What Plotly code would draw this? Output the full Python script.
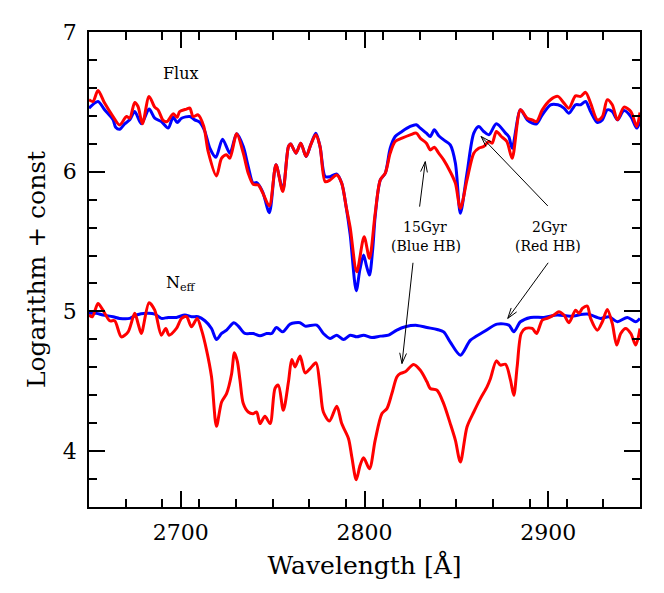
import math
import plotly.graph_objects as go

# ---- data (wavelength in Angstrom, value = logarithm + const) ----
flux_blue_wl = [2650, 2654.9, 2658.5, 2663.1, 2664.5, 2666.7, 2669.4, 2672.2, 2674.9, 2678.5, 2682.7, 2685.8, 2689.4, 2693.1, 2695.8, 2698, 2700.4, 2704.9, 2707.6, 2710.4, 2713.1, 2715.8, 2719.1, 2722.7, 2726.7, 2730.4, 2734, 2736.7, 2739.4, 2741.3, 2744.5, 2748.2, 2751.8, 2755.5, 2758.6, 2759.8, 2762.7, 2765.3, 2768.2, 2770.7, 2773.5, 2775.8, 2778.6, 2781.3, 2784.9, 2787.6, 2790, 2792.2, 2795.5, 2797.5, 2799.5, 2801, 2802.7, 2804.5, 2805.8, 2808.6, 2811.3, 2814, 2816.7, 2820.4, 2824.9, 2828.2, 2830.4, 2833.7, 2835.8, 2838, 2840.4, 2843.1, 2846.7, 2849.5, 2852.2, 2855.8, 2859.5, 2862.2, 2864.9, 2867.7, 2871.8, 2876.8, 2878.6, 2880.4, 2884.9, 2888.6, 2891.3, 2893.7, 2896.8, 2901.3, 2905.3, 2908.6, 2911.3, 2914.9, 2917.7, 2920.4, 2923.1, 2926.8, 2929.5, 2932.2, 2934.9, 2937.7, 2941.3, 2945, 2948.2, 2950]
flux_blue = [6.455, 6.503, 6.443, 6.371, 6.319, 6.304, 6.343, 6.371, 6.431, 6.343, 6.448, 6.383, 6.359, 6.312, 6.390, 6.352, 6.383, 6.395, 6.371, 6.352, 6.288, 6.168, 6.104, 6.233, 6.133, 6.271, 6.180, 6.037, 5.917, 5.922, 5.858, 5.707, 6.049, 5.870, 6.180, 6.199, 6.133, 6.204, 6.109, 6.192, 6.276, 6.180, 5.965, 5.965, 5.983, 5.917, 5.750, 5.550, 5.148, 5.300, 5.404, 5.330, 5.260, 5.450, 5.678, 5.941, 5.989, 6.168, 6.252, 6.288, 6.324, 6.336, 6.312, 6.276, 6.252, 6.300, 6.257, 6.228, 6.192, 6.061, 5.702, 5.989, 6.276, 6.324, 6.288, 6.264, 6.343, 6.276, 6.250, 6.168, 6.443, 6.371, 6.348, 6.343, 6.407, 6.479, 6.479, 6.455, 6.419, 6.479, 6.479, 6.503, 6.431, 6.352, 6.371, 6.443, 6.431, 6.371, 6.438, 6.395, 6.312, 6.359]

flux_red_wl = [2650, 2652.2, 2654.9, 2658.5, 2663.1, 2666.7, 2670.4, 2672.2, 2674.9, 2676.7, 2679.1, 2682.7, 2685.8, 2687.6, 2690.4, 2692.5, 2695.8, 2698, 2699.4, 2703.1, 2704.9, 2706.7, 2709.4, 2712.5, 2714.9, 2719.4, 2722.2, 2724.9, 2726.7, 2730.4, 2734, 2736.7, 2739.4, 2742.2, 2744.5, 2748.2, 2751.8, 2755.5, 2758.6, 2759.8, 2762.7, 2765.3, 2768.2, 2770.7, 2773.5, 2775.8, 2778.6, 2781.3, 2784.9, 2787.6, 2790, 2792.2, 2795.8, 2799.8, 2802.7, 2805.8, 2808.6, 2811.3, 2814, 2816.7, 2820.4, 2824.9, 2828.2, 2830.4, 2833.7, 2835.8, 2838, 2840.4, 2843.1, 2846.7, 2849.5, 2852.2, 2855.8, 2859.5, 2862.2, 2864.9, 2867.7, 2869.5, 2871.8, 2874.5, 2877.5, 2880.4, 2884.9, 2888.6, 2891.3, 2893.7, 2896.8, 2901.3, 2905.3, 2908.6, 2911.3, 2914.9, 2917.7, 2920.4, 2923.1, 2926.8, 2929.5, 2932.2, 2934.9, 2937.7, 2941.3, 2945, 2948.2, 2950]
flux_red = [6.515, 6.503, 6.582, 6.491, 6.395, 6.335, 6.395, 6.383, 6.496, 6.467, 6.343, 6.539, 6.462, 6.443, 6.367, 6.359, 6.414, 6.390, 6.431, 6.448, 6.455, 6.395, 6.407, 6.324, 6.144, 5.970, 6.097, 6.121, 6.097, 6.271, 6.133, 5.989, 5.910, 5.905, 5.851, 5.755, 6.049, 5.858, 6.180, 6.199, 6.133, 6.204, 6.109, 6.192, 6.264, 6.180, 5.929, 5.941, 5.977, 5.917, 5.750, 5.600, 5.284, 5.535, 5.380, 5.700, 5.941, 5.989, 6.133, 6.216, 6.240, 6.264, 6.276, 6.240, 6.204, 6.156, 6.175, 6.133, 6.085, 6.000, 5.917, 5.738, 5.941, 6.133, 6.168, 6.180, 6.216, 6.204, 6.288, 6.252, 6.216, 6.097, 6.443, 6.383, 6.371, 6.359, 6.443, 6.515, 6.539, 6.491, 6.455, 6.543, 6.539, 6.568, 6.491, 6.371, 6.395, 6.515, 6.479, 6.371, 6.462, 6.431, 6.324, 6.424]

neff_blue_wl = [2650, 2654, 2657.6, 2663.1, 2666.7, 2672.2, 2675.8, 2681.3, 2685.8, 2689.4, 2693.1, 2697.6, 2702.2, 2705.8, 2709.4, 2713.1, 2716.7, 2719.4, 2722.2, 2724.9, 2728.9, 2731.3, 2734.9, 2739.4, 2743.1, 2746.7, 2749.5, 2752, 2755.5, 2759.5, 2764.9, 2767.7, 2774, 2777.6, 2781.3, 2784.9, 2788.6, 2792.2, 2795.8, 2799.5, 2804, 2808.6, 2813.1, 2817.6, 2822.2, 2828.6, 2834, 2839.5, 2843.1, 2846.7, 2852.2, 2857.7, 2864.9, 2872.2, 2878.6, 2881.3, 2884.9, 2890.4, 2897.7, 2904.9, 2912.2, 2921.3, 2928.6, 2933.1, 2937.7, 2943.1, 2947.7, 2950]
neff_blue = [4.986, 4.986, 4.974, 4.962, 4.950, 4.950, 4.974, 4.986, 4.981, 4.950, 4.957, 4.957, 4.974, 4.962, 4.962, 4.933, 4.878, 4.799, 4.842, 4.866, 4.919, 4.895, 4.842, 4.842, 4.825, 4.842, 4.842, 4.885, 4.854, 4.909, 4.919, 4.895, 4.902, 4.842, 4.806, 4.830, 4.799, 4.830, 4.818, 4.830, 4.813, 4.823, 4.830, 4.866, 4.890, 4.900, 4.885, 4.871, 4.854, 4.780, 4.687, 4.794, 4.854, 4.909, 4.902, 4.854, 4.926, 4.957, 4.957, 4.974, 4.966, 4.981, 4.950, 4.962, 4.926, 4.957, 4.926, 4.950]

neff_red_wl = [2650, 2651.8, 2654.9, 2657.6, 2661.3, 2664, 2667.6, 2671.3, 2674.9, 2676.7, 2678.5, 2682.7, 2685.8, 2689.4, 2691.8, 2693.6, 2697.6, 2700.4, 2703.1, 2705.8, 2708.9, 2711.3, 2714, 2716.7, 2719.4, 2722.2, 2724.9, 2727.6, 2729.2, 2730.8, 2732.2, 2734, 2736.7, 2739.4, 2741.3, 2743.1, 2745.8, 2748.6, 2751.3, 2753.1, 2755.8, 2758.6, 2760.4, 2762.2, 2764.9, 2767.7, 2770.4, 2773.6, 2775.8, 2777.6, 2780.9, 2784.9, 2787.6, 2791.3, 2793.1, 2795.5, 2797.6, 2799.5, 2802.7, 2805.8, 2809.5, 2812.2, 2814.9, 2817.6, 2819.5, 2822.2, 2826.7, 2830.4, 2834, 2835.8, 2839.5, 2843.1, 2846.7, 2849.5, 2852.2, 2855.8, 2859.5, 2863.1, 2866.7, 2868.6, 2871.8, 2874, 2876.8, 2879.5, 2881.3, 2883.1, 2885.3, 2887.7, 2891.3, 2893.7, 2896.8, 2899.5, 2903.1, 2905.8, 2908.6, 2911.3, 2914.9, 2916.8, 2918.6, 2921.3, 2923.1, 2926.8, 2929.5, 2932.2, 2934.9, 2937.3, 2939.5, 2942.2, 2945, 2947.7, 2950]
neff_red = [4.974, 4.962, 5.057, 5.009, 4.933, 4.933, 4.818, 4.854, 4.986, 4.914, 4.842, 5.062, 5.009, 4.830, 4.878, 4.830, 4.878, 4.950, 4.962, 4.890, 4.950, 4.866, 4.723, 4.532, 4.178, 4.352, 4.412, 4.550, 4.705, 4.640, 4.508, 4.340, 4.280, 4.268, 4.280, 4.197, 4.249, 4.197, 4.450, 4.472, 4.292, 4.496, 4.656, 4.603, 4.680, 4.560, 4.591, 4.632, 4.460, 4.280, 4.216, 4.321, 4.197, 4.089, 3.958, 3.795, 3.898, 3.953, 3.874, 4.077, 4.269, 4.304, 4.412, 4.530, 4.555, 4.568, 4.620, 4.579, 4.496, 4.448, 4.436, 4.340, 4.197, 4.077, 3.922, 4.173, 4.280, 4.376, 4.460, 4.520, 4.646, 4.615, 4.622, 4.508, 4.400, 4.603, 4.842, 4.878, 4.878, 4.842, 4.938, 4.950, 4.974, 4.998, 4.974, 4.919, 5.009, 4.986, 5.021, 5.038, 4.950, 4.866, 4.926, 5.014, 4.914, 4.759, 4.842, 4.878, 4.842, 4.759, 4.878]

x_range = [2650, 2950]
y_range = [3.6, 7.0]
x_ticks = [2700, 2800, 2900]
y_ticks = [4, 5, 6, 7]

# label texts and their positions (data units)
label_texts = ["Flux", "N<sub>eff</sub>", "15Gyr", "(Blue HB)", "2Gyr", "(Red HB)"]
label_x = [2700.0, 2700.0, 2833.2, 2833.5, 2900.5, 2900.0]
label_y = [6.70, 5.20, 5.606, 5.470, 5.606, 5.470]
label_size = [16, 16, 14, 14, 14, 14]

# arrows: head and tail (data units)
arrow_head_x = [2833.1, 2820.4, 2863.5, 2878.0]
arrow_head_y = [6.072, 4.627, 6.252, 4.950]
arrow_tail_x = [2830.0, 2826.4, 2899.8, 2900.0]
arrow_tail_y = [5.750, 5.348, 5.755, 5.348]

FONT = "DejaVu Serif"
W, H = 664, 593
ML, MR, MT, MB = 81, 32, 24, 94

fig = go.Figure()
line_kw = dict(shape="spline", smoothing=0.8, width=3)
fig.add_trace(go.Scatter(x=flux_blue_wl, y=flux_blue, mode="lines", line=dict(color="#0000ff", **line_kw)))
fig.add_trace(go.Scatter(x=neff_blue_wl, y=neff_blue, mode="lines", line=dict(color="#0000ff", **line_kw)))
fig.add_trace(go.Scatter(x=flux_red_wl, y=flux_red, mode="lines", line=dict(color="#ff0000", **line_kw)))
fig.add_trace(go.Scatter(x=neff_red_wl, y=neff_red, mode="lines", line=dict(color="#ff0000", **line_kw)))

for x, y, t, s in zip(label_x, label_y, label_texts, label_size):
    fig.add_annotation(x=x, y=y, xref="x", yref="y", text=t, showarrow=False,
                       font=dict(family=FONT, size=s, color="black"))

# pixel scale of the plot area, used to build open V arrowheads
px_per_x = (W - ML - MR) / (x_range[1] - x_range[0])
px_per_y = (H - MT - MB) / (y_range[1] - y_range[0])
head_len, head_ang = 11.0, math.radians(18)

for hx, hy, tx, ty in zip(arrow_head_x, arrow_head_y, arrow_tail_x, arrow_tail_y):
    fig.add_shape(type="line", x0=tx, y0=ty, x1=hx, y1=hy, xref="x", yref="y",
                  line=dict(color="black", width=1))
    dx = (tx - hx) * px_per_x
    dy = (ty - hy) * px_per_y
    n = math.hypot(dx, dy)
    ux, uy = dx / n, dy / n
    for s in (1, -1):
        a = s * head_ang
        rx = ux * math.cos(a) - uy * math.sin(a)
        ry = ux * math.sin(a) + uy * math.cos(a)
        fig.add_shape(type="line", x0=hx, y0=hy,
                      x1=hx + rx * head_len / px_per_x, y1=hy + ry * head_len / px_per_y,
                      xref="x", yref="y", line=dict(color="black", width=1))

axis_common = dict(
    showline=True, linecolor="black", linewidth=1.5, mirror="allticks",
    ticks="inside", tickcolor="black", tickwidth=1.5, ticklen=16,
    showgrid=False, zeroline=False,
    tickfont=dict(family=FONT, size=22, color="black"),
)
fig.update_xaxes(range=x_range, tickvals=x_ticks,
                 minor=dict(dtick=20, tick0=2650, ticks="inside", ticklen=8, tickcolor="black", tickwidth=1.5, showgrid=False),
                 title=dict(text="Wavelength [Å]", font=dict(family=FONT, size=25, color="black"), standoff=12),
                 ticklabelstandoff=5,
                 **axis_common)
fig.update_yaxes(range=y_range, tickvals=y_ticks,
                 minor=dict(dtick=0.2, tick0=3.6, ticks="inside", ticklen=8, tickcolor="black", tickwidth=1.5, showgrid=False),
                 title=dict(text="Logarithm + const", font=dict(family=FONT, size=25, color="black"), standoff=10),
                 ticklabelstandoff=6,
                 **axis_common)

fig.update_layout(
    width=W, height=H,
    margin=dict(l=ML, r=MR, t=MT, b=MB),
    plot_bgcolor="white", paper_bgcolor="white",
    showlegend=False,
    font=dict(family=FONT, color="black"),
)

fig.write_html("out.html")
